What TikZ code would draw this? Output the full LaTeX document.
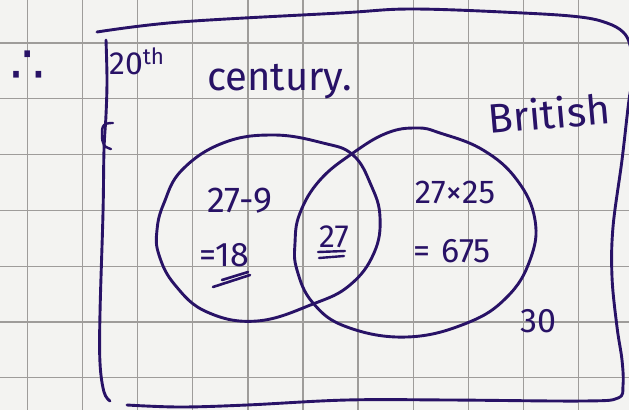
\documentclass[tikz,border=0pt]{standalone}
\usepackage{fontspec}
\setmainfont{Fira Sans}
\newfontfamily\symfont{DejaVu Sans}
\definecolor{ink}{RGB}{40,18,102}
\definecolor{paper}{RGB}{243,243,241}
\definecolor{gridc}{RGB}{158,156,154}
\begin{document}
\begin{tikzpicture}[x=1pt,y=-1pt,
  pen/.style={draw=ink,line width=2.9pt,line cap=round,line join=round},
  gridline/.style={draw=gridc,line width=1.3pt},
  hand/.style={text=ink,inner sep=0pt,anchor=base},
  ]
\useasboundingbox (0,0) rectangle (629,410);
\fill[paper] (0,0) rectangle (629,410);
% graph paper
\foreach \i in {0,...,10} \draw[gridline] ({27.5+55.1*\i},0) -- ({27.5+55.1*\i},410);
\foreach \j in {-1,...,6} \draw[gridline] (0,{43+55.8*\j}) -- (629,{43+55.8*\j});
% universal set frame
\draw[pen] plot[smooth,tension=0.6] coordinates {(97,32) (180,22) (340,13) (413,9) (523,13) (580,17) (607,23) (623,32) (630,45) (634,70) (629,100) (622,160) (613,227) (612,277) (617,327) (622,360) (623,385) (618,398) (583,401) (450,400) (347,400) (247,405) (180,407) (127,405)};
\draw[pen] plot[smooth,tension=0.6] coordinates {(106,40) (107,80) (106,115) (104,150) (103,213) (100,313) (100,363) (104,392) (110,401)};
\draw[pen,line width=2.4pt] plot[smooth,tension=0.7] coordinates {(113,123) (104,125) (102,135) (104,145) (111,149)};
% left circle (20th century)
\draw[pen] plot[smooth cycle,tension=0.7] coordinates {(273,135) (323,143) (353,155) (371,185) (380,217) (374,253) (350,285) (313,304) (257,321) (207,312) (175,285) (159,255) (157,230) (164,203) (182,170) (223,143)};
% right circle (British)
\draw[pen] plot[smooth cycle,tension=0.7] coordinates {(417,128) (440,133) (483,150) (517,180) (535,220) (530,260) (507,297) (467,323) (407,337) (347,327) (313,303) (297,270) (295,243) (300,213) (320,180) (353,153) (387,133)};
% texts
\node[hand] (therefore) at (28,83) {\fontsize{54}{54}\selectfont\symfont ∴};
\node[hand,anchor=base west] (twentieth) at (109,74) {\fontsize{32}{32}\selectfont 20\textsuperscript{th}};
\node[hand,anchor=base west] (century) at (207,90) {\fontsize{40}{40}\selectfont century.};
\node[hand,anchor=center,rotate=5] (british) at (549,113) {\fontsize{41}{41}\selectfont British};
\node[hand] (leftcalc) at (240,212) {\fontsize{36}{36}\selectfont 27-9};
\node[hand] (leftval) at (224,266) {\fontsize{34}{34}\selectfont =18};
\node[hand] (midval) at (334,247) {\fontsize{32}{32}\selectfont 27};
\node[hand] (rightcalc) at (455,203) {\fontsize{33}{33}\selectfont 27×25};
\node[hand] (rightval) at (452,262) {\fontsize{34}{34}\selectfont =\,\,675};
\node[hand] (outside) at (538,332) {\fontsize{34}{34}\selectfont 30};
% underlines
\draw[pen,line width=2.6pt] (213,287) -- (250,275);
\draw[pen,line width=2.6pt] (222,280) -- (248,272);
\draw[pen,line width=2.4pt] (318,252) -- (345,251);
\draw[pen,line width=2.4pt] (319,258) -- (344,256);
\end{tikzpicture}
\end{document}
